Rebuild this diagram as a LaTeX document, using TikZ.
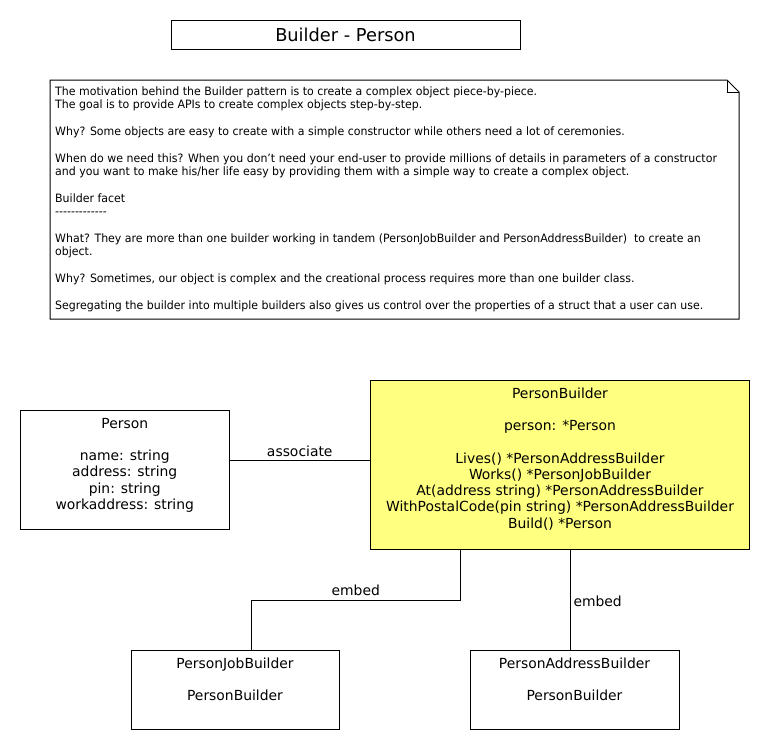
\documentclass[tikz,border=0pt]{standalone}
\usepackage{fontspec}
\setmainfont{DejaVu Sans}
\newfontfamily\notefont[FakeStretch=0.955]{DejaVu Sans}
\definecolor{pbyellow}{RGB}{255,255,128}
\newcommand\mlines[1]{\begin{tabular}[t]{@{}c@{}}#1\end{tabular}}
\newcommand\hy{\mbox{-}}
\begin{document}
\begin{tikzpicture}[x=1pt,y=-1pt,
  box/.style={draw=black, line width=1pt, inner sep=0pt},
  boxtext/.style={anchor=base, inner sep=0pt, font=\fontsize{13.9}{16.25}\selectfont},
  conn/.style={draw=black, line width=1pt},
  lbl/.style={font=\fontsize{13.9}{16.25}\selectfont, inner sep=0pt}]
\useasboundingbox[fill=white] (0,0) rectangle (770,750);

% title
\node[box, minimum width=349, minimum height=29, font=\fontsize{17.8}{20}\selectfont] (title) at (345.5,34.5) {Builder - Person};

% note
\draw[conn, fill=white] (50,80) -- (727,80) -- (739,92) -- (739,319) -- (50,319) -- cycle;
\draw[conn] (727,80) -- (727,92) -- (739,92);
\node[anchor=base west, inner sep=0pt, font=\notefont\fontsize{11.5}{13.4}\selectfont] (notetext) at (55,95) {\begin{tabular}[t]{@{}l@{}}
The motivation behind the Builder pattern is to create a complex object piece-by-piece.\\
The goal is to provide APIs to create complex objects step-by-step.\\
\\
Why? Some objects are easy to create with a simple constructor while others need a lot of ceremonies.\\
\\
When do we need this? When you don’t need your end-user to provide millions of details in parameters of a constructor\\
and you want to make his/her life easy by providing them with a simple way to create a complex object.\\
\\
Builder facet\\
\hy\hy\hy\hy\hy\hy\hy\hy\hy\hy\hy\hy\hy\\
\\
What? They are more than one builder working in tandem (PersonJobBuilder and PersonAddressBuilder)\ \ to create an\\
object.\\
\\
Why? Sometimes, our object is complex and the creational process requires more than one builder class.\\
\\
Segregating the builder into multiple builders also gives us control over the properties of a struct that a user can use.
\end{tabular}};

% boxes
\node[box, minimum width=208.5, minimum height=119] (person) at (124.75,469.5) {};
\node[boxtext] (persontext) at (124.75,428) {\mlines{Person\\ \\ name: string\\ address: string\\ pin: string\\ workaddress: string}};

\node[box, fill=pbyellow, minimum width=379, minimum height=168.5] (builder) at (560,464.75) {};
\node[boxtext] (buildertext) at (560,398) {\mlines{PersonBuilder\\ \\ person: *Person\\ \\ Lives() *PersonAddressBuilder\\ Works() *PersonJobBuilder\\ At(address string) *PersonAddressBuilder\\ WithPostalCode(pin string) *PersonAddressBuilder\\ Build() *Person}};

\node[box, minimum width=208, minimum height=79] (job) at (235,689.5) {};
\node[boxtext] (jobtext) at (235,668) {\mlines{PersonJobBuilder\\ \\ PersonBuilder}};

\node[box, minimum width=209, minimum height=79] (addr) at (574.5,689.5) {};
\node[boxtext] (addrtext) at (574.5,668) {\mlines{PersonAddressBuilder\\ \\ PersonBuilder}};

% connectors
\coordinate (assocy) at (0,460.5);
\draw[conn] (person.east |- assocy) -- node[lbl, above=3.8pt] (assoclbl) {associate} (builder.west |- assocy);

\coordinate (e1top) at ([xshift=-99.5pt]builder.south);
\coordinate (e1mid) at (0,600.5);
\coordinate (e1bot) at ([xshift=16pt]job.north);
\draw[conn] (e1top) -- (e1top |- e1mid) -- node[lbl, above=4pt] (embed1lbl) {embed} (e1bot |- e1mid) -- (e1bot);

\draw[conn] ([xshift=10.5pt]builder.south) -- node[lbl, pos=0.52, right=2.5pt] (embed2lbl) {embed} ([xshift=-4pt]addr.north);
\end{tikzpicture}
\end{document}
